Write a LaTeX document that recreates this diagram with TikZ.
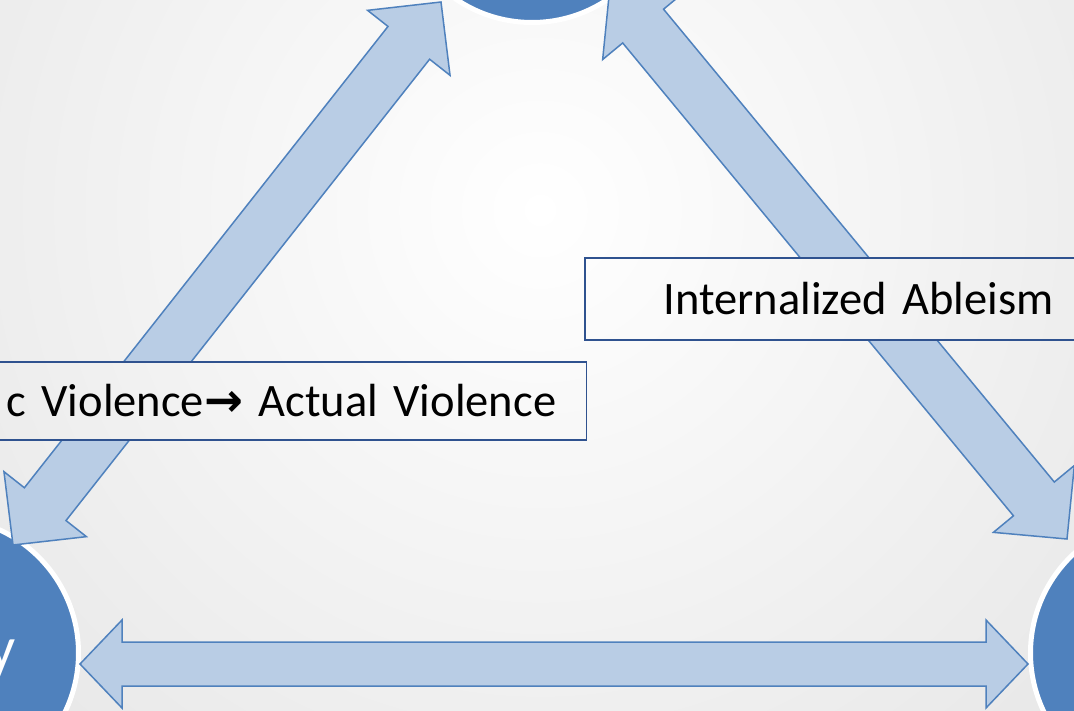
\documentclass[tikz,border=0pt]{standalone}
\usepackage{fontspec}
\setmainfont{Carlito}
\newfontfamily\arrowfont{DejaVu Sans}
\usetikzlibrary{calc}

\definecolor{hubblue}{RGB}{79,129,189}
\definecolor{arrowfill}{RGB}{185,205,229}
\definecolor{boxline}{RGB}{47,82,143}

\newcommand{\labelfont}{\fontsize{46.5}{56}\selectfont}

% two-headed block arrow: tip, tip, shaft half width, head half width, head length
\newcommand{\bothways}[5]{%
	\draw[fatarrow] (#1) -- ($(#1)!#5!(#2)!#4!90:(#2)$) -- ($(#1)!#5!(#2)!#3!90:(#2)$)
		-- ($(#2)!#5!(#1)!#3!-90:(#1)$) -- ($(#2)!#5!(#1)!#4!-90:(#1)$) -- (#2)
		-- ($(#2)!#5!(#1)!#4!90:(#1)$) -- ($(#2)!#5!(#1)!#3!90:(#1)$)
		-- ($(#1)!#5!(#2)!#3!-90:(#2)$) -- ($(#1)!#5!(#2)!#4!-90:(#2)$) -- cycle;}

\begin{document}
\begin{tikzpicture}
	% Styles
	[
	x=1pt, y=-1pt,
	backdrop/.style={inner color=white,outer color=gray!45},
	hub/.style={circle,draw=white,fill=hubblue,line width=5,inner sep=0pt,minimum size=271},
	fatarrow/.style={draw=hubblue,fill=arrowfill,line width=1.5,line join=miter},
	labelbox/.style={draw=boxline,line width=1.5,font=\labelfont,path picture={\fill[backdrop] (glow) circle (1800);}},
	]

	% Background
	\useasboundingbox (0,0) rectangle (1074,711);
	\clip (0,0) rectangle (1074,711);
	\coordinate (glow) at (540,210);
	\fill[backdrop] (glow) circle (1800);

	% Nodes
	\node at (532,-113)	(top)	[hub] {};
	\node at (-57,653)	(left)	[hub] {};
	\node at (1166,653)	(right)	[hub] {};
	\node at (16,668)	(lefttext)	[anchor=base east,inner sep=0pt,text=white,font=\fontsize{60}{66}\selectfont] {y};

	% Arrow tips
	\coordinate (left-up)	at (13,545);
	\coordinate (top-left)	at (441,2);
	\coordinate (right-up)	at (1067,539);
	\coordinate (top-right)	at (610,-14);
	\coordinate (left-side)	at (80,664);
	\coordinate (right-side)	at (1028,664);

	% Connections
	\bothways{left-up}{top-left}{26.5pt}{52.5pt}{52pt}
	\bothways{right-up}{top-right}{26.5pt}{52.5pt}{52pt}
	\bothways{left-side}{right-side}{22pt}{44pt}{42pt}

	% Labels
	\node at (587,401)	(violence)	[labelbox,anchor=east,text width=620,align=right,inner xsep=30,minimum height=78] {c Violence{\arrowfont\bfseries →} Actual Violence};
	\node at (584,299)	(ableism)	[labelbox,anchor=west,text width=450,align=left,inner xsep=79,minimum height=82] {Internalized Ableism};

\end{tikzpicture}
\end{document}
